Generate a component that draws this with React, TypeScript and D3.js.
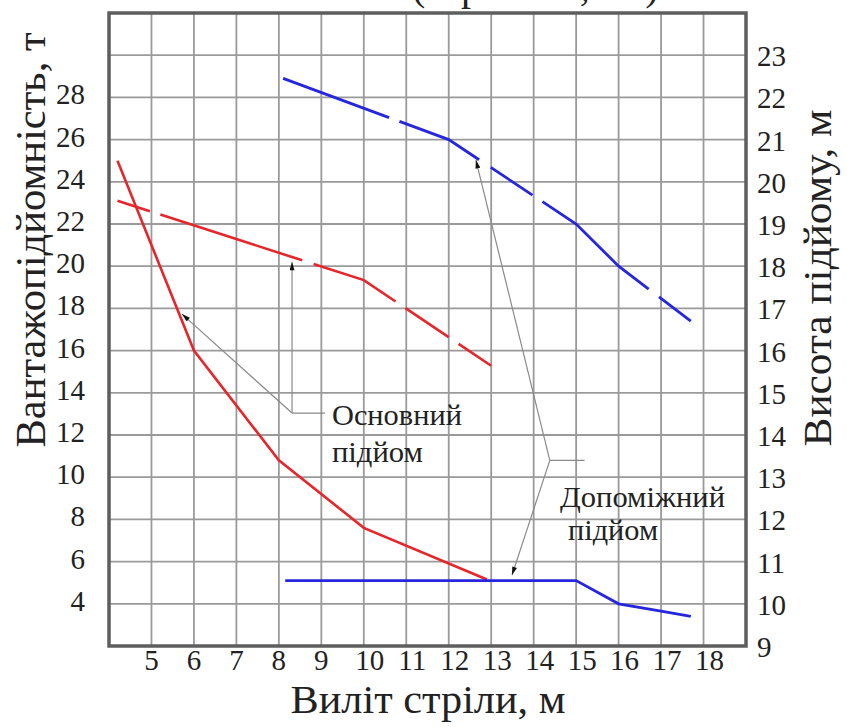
import * as d3 from 'd3';

// axis ticks
const distTicks = [5, 6, 7, 8, 9, 10, 11, 12, 13, 14, 15, 16, 17, 18];
const loadTicks = [4, 6, 8, 10, 12, 14, 16, 18, 20, 22, 24, 26, 28];
const heightTicks = [9, 10, 11, 12, 13, 14, 15, 16, 17, 18, 19, 20, 21, 22, 23];

// основний підйом: вантажопідйомність (т) і висота (м)
const mainLoadX = [4.2, 6, 8, 10, 12.9];
const mainLoadY = [25, 16, 10.8, 7.6, 5.15];
const mainHeightX = [4.2, 10, 13];
const mainHeightY = [19.55, 17.67, 15.64];

// допоміжний підйом
const auxLoadX = [8.15, 15, 16, 17, 17.7];
const auxLoadY = [5.1, 5.1, 4.0, 3.65, 3.4];
const auxHeightX = [8.1, 12, 15, 16, 17.7];
const auxHeightY = [22.45, 21.0, 19.0, 18.0, 16.7];

const W = 847;
const H = 727;
const SERIF = `'Liberation Serif'`;

export default function App() {
  const x = d3.scaleLinear().domain([4, 19]).range([109, 746]);
  const yL = d3.scaleLinear().domain([2, 32]).range([646, 13]);
  const yR = d3.scaleLinear().domain([9, 24]).range([646, 13]);

  const lineL = d3.line<[number, number]>().x(d => x(d[0])).y(d => yL(d[1]));
  const lineR = d3.line<[number, number]>().x(d => x(d[0])).y(d => yR(d[1]));

  const red = '#e5262b';
  const blue = '#2626dc';
  const grid = '#9a9a9a';
  const ink = '#222';

  // leader lines in data coords (x, left axis)
  const mJ: [number, number] = [8.31, 13.04];
  const aJ: [number, number] = [14.38, 10.8];

  return (
    <svg id="crane" width={W} height={H} style={{ position: 'absolute', left: 0, top: 0, background: '#fff' }}>
      <style>{`#crane text { font-family: 'Liberation Serif', 'Times New Roman', serif !important; }`}</style>
      <defs>
        <marker id="arr" viewBox="0 0 10 6" refX="10" refY="3" markerWidth="9" markerHeight="5"
          markerUnits="userSpaceOnUse" orient="auto">
          <path d="M0,0 L10,3 L0,6 z" fill="#111" />
        </marker>
      </defs>
      <rect width={W} height={H} fill="#fff" />

      {/* clipped title at very top */}
      <text x={412} y={0} fontSize={40} fill={ink} style={{ fontFamily: SERIF }}>(стріла 18,5 м)</text>

      {/* grid */}
      {distTicks.map(t => (
        <line key={'gx' + t} x1={x(t)} x2={x(t)} y1={yR(9)} y2={yR(24)} stroke={grid} strokeWidth={1.8} />
      ))}
      {heightTicks.slice(1).map(t => (
        <line key={'gy' + t} x1={x(4)} x2={x(19)} y1={yR(t)} y2={yR(t)} stroke={grid} strokeWidth={1.8} />
      ))}
      <rect x={x(4)} y={yR(24)} width={x(19) - x(4)} height={yR(9) - yR(24)} fill="none" stroke="#5e5e5e" strokeWidth={3.5} />

      {/* series */}
      <path d={lineL(d3.zip(mainLoadX, mainLoadY) as [number, number][]) || ''} fill="none" stroke={red} strokeWidth={2.6} />
      <path d={lineR(d3.zip(mainHeightX, mainHeightY) as [number, number][]) || ''} fill="none" stroke={red} strokeWidth={2.6}
        strokeDasharray="34 11 149 12 91 12 52 12 300" />
      <path d={lineL(d3.zip(auxLoadX, auxLoadY) as [number, number][]) || ''} fill="none" stroke={blue} strokeWidth={2.8} />
      <path d={lineR(d3.zip(auxHeightX, auxHeightY) as [number, number][]) || ''} fill="none" stroke={blue} strokeWidth={2.8}
        strokeDasharray="113 11 89 14 50 12 138 13 300" />

      {/* annotation leaders */}
      <line x1={x(mJ[0])} y1={yL(mJ[1])} x2={x(mJ[0])} y2={yL(20.2)} stroke="#8a8a8a" strokeWidth={1.2} markerEnd="url(#arr)" />
      <line x1={x(mJ[0])} y1={yL(mJ[1])} x2={x(5.72)} y2={yL(17.73)} stroke="#8a8a8a" strokeWidth={1.2} markerEnd="url(#arr)" />
      <line x1={x(mJ[0])} y1={yL(mJ[1])} x2={x(9.09)} y2={yL(mJ[1])} stroke="#8a8a8a" strokeWidth={1.2} />
      <line x1={x(aJ[0])} y1={yL(aJ[1])} x2={x(12.64)} y2={yL(25.03)} stroke="#8a8a8a" strokeWidth={1.2} markerEnd="url(#arr)" />
      <line x1={x(aJ[0])} y1={yL(aJ[1])} x2={x(13.49)} y2={yL(5.36)} stroke="#8a8a8a" strokeWidth={1.2} markerEnd="url(#arr)" />
      <line x1={x(aJ[0])} y1={yL(aJ[1])} x2={x(15.2)} y2={yL(aJ[1])} stroke="#8a8a8a" strokeWidth={1.2} />

      <text x={x(9.25)} y={yL(12.47)} fontSize={30} fill={ink} style={{ fontFamily: SERIF }} textLength={130} lengthAdjust="spacingAndGlyphs">Основний</text>
      <text x={x(9.25)} y={yL(10.72)} fontSize={30} fill={ink} style={{ fontFamily: SERIF }} textLength={91} lengthAdjust="spacingAndGlyphs">підйом</text>
      <text x={x(14.62)} y={yL(8.59)} fontSize={30} fill={ink} style={{ fontFamily: SERIF }} textLength={165} lengthAdjust="spacingAndGlyphs">Допоміжний</text>
      <text x={x(14.81)} y={yL(7.02)} fontSize={30} fill={ink} style={{ fontFamily: SERIF }} textLength={90} lengthAdjust="spacingAndGlyphs">підйом</text>

      {/* ticks */}
      {distTicks.map(t => (
        <text key={'tx' + t} x={x(t) + (t >= 10 ? 6 : 0)} y={670} fontSize={29} fill={ink} style={{ fontFamily: SERIF }} textAnchor="middle">{t}</text>
      ))}
      {loadTicks.map(t => (
        <text key={'tl' + t} x={85} y={yL(t) + 7} fontSize={29} fill={ink} style={{ fontFamily: SERIF }} textAnchor="end">{t}</text>
      ))}
      {heightTicks.map(t => (
        <text key={'tr' + t} x={757} y={yR(t) + 11} fontSize={29} fill={ink} style={{ fontFamily: SERIF }} textAnchor="start">{t}</text>
      ))}

      {/* axis titles */}
      <text x={428} y={713} fontSize={40} fill={ink} style={{ fontFamily: SERIF }} textAnchor="middle" textLength={275} lengthAdjust="spacingAndGlyphs">Виліт стріли, м</text>
      <text transform="translate(45,240) rotate(-90)" fontSize={42} fill={ink} style={{ fontFamily: SERIF }} textAnchor="middle" textLength={415} lengthAdjust="spacingAndGlyphs">Вантажопідйомність, т</text>
      <text transform="translate(831,278) rotate(-90)" fontSize={41} fill={ink} style={{ fontFamily: SERIF }} textAnchor="middle" textLength={337} lengthAdjust="spacingAndGlyphs">Висота підйому, м</text>
    </svg>
  );
}
